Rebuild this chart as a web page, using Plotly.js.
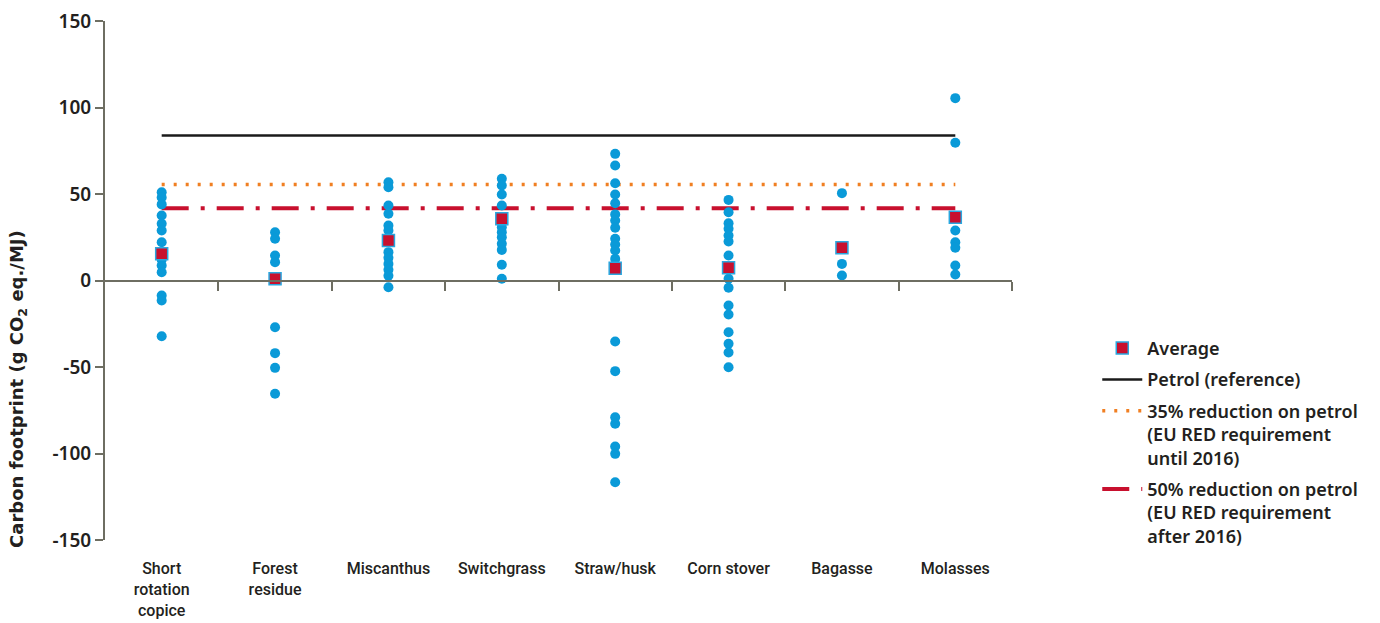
<!DOCTYPE html>
<html>
<head>
<meta charset="utf-8">
<script src="https://cdn.plot.ly/plotly-3.0.1.min.js"></script>
<style>html,body{margin:0;padding:0;background:#fff;}#chart{width:1380px;height:623px;}</style>
</head>
<body>
<div id="chart"></div>
<script>
// Categories (tick labels)
const categories = ["Short<br>rotation<br>copice", "Forest<br>residue", "Miscanthus", "Switchgrass", "Straw/husk", "Corn stover", "Bagasse", "Molasses"];

// Y tick labels
const yTickValues = [-150, -100, -50, 0, 50, 100, 150];
const yTickLabels = ["-150", "-100", "-50", "0", "50", "100", "150"];

// Individual study values per category (g CO2 eq./MJ)
const shortRotationCopice = [51, 48, 44, 37.6, 32.8, 28.9, 22.1, 12, 8.7, 4.8, -8.7, -11.6, -32.2];
const forestResidue = [27.9, 24.1, 14.5, 10.6, -27, -42, -50.5, -65.5];
const miscanthus = [56.8, 53.9, 43.4, 38.6, 31.8, 28.9, 16.4, 13.1, 9.6, 6.2, 2.7, -3.9];
const switchgrass = [58.8, 54.9, 49.7, 43.4, 30.8, 27.9, 25, 21.2, 17.7, 9.1, 1.0];
const strawHusk = [73.2, 66.5, 56.2, 49.7, 44.7, 38.2, 34.7, 30.5, 24.1, 20.8, 17.3, 12.5, -35.3, -52.4, -79, -82.8, -96, -100.2, -116.6];
const cornStover = [46.6, 39.5, 33.1, 29.9, 26, 22.5, 14.5, 1.0, -4.2, -14.5, -19.7, -29.9, -36.6, -41.6, -50.1];
const bagasse = [50.5, 9.6, 2.9];
const molasses = [105.4, 79.6, 28.9, 22.1, 18.9, 8.7, 3.5];

const seriesByCategory = [shortRotationCopice, forestResidue, miscanthus, switchgrass, strawHusk, cornStover, bagasse, molasses];

// Averages per category
const averages = [15.4, 1.0, 23.1, 35.7, 7.1, 7.3, 18.9, 36.6];

// Reference lines
const petrolReference = 83.8;
const reduction35 = 55.5;
const reduction50 = 41.8;

const dotX = [], dotY = [];
seriesByCategory.forEach((vals, i) => vals.forEach(v => { dotX.push(categories[i]); dotY.push(v); }));

const lineX = [categories[0], categories[categories.length - 1]];

const fontMain = "'Noto Sans', 'DejaVu Sans', sans-serif";

const traces = [
  {
    x: lineX, y: [petrolReference, petrolReference], type: 'scatter', mode: 'lines',
    name: 'Petrol (reference)', line: {color: '#1a1a1a', width: 2.5}, legendrank: 2, legendgroup: 'g2', hoverinfo: 'skip'
  },
  {
    x: lineX, y: [reduction35, reduction35], type: 'scatter', mode: 'lines',
    name: '35% reduction on petrol<br>(EU RED requirement<br>until 2016)',
    line: {color: '#f07f22', width: 3.5, dash: '3px,9px'}, legendrank: 3, legendgroup: 'g3', hoverinfo: 'skip'
  },
  {
    x: lineX, y: [reduction50, reduction50], type: 'scatter', mode: 'lines',
    name: '50% reduction on petrol<br>(EU RED requirement<br>after 2016)',
    line: {color: '#c8102e', width: 4, dash: '27px,12px,4px,12px'}, legendrank: 4, legendgroup: 'g4', hoverinfo: 'skip'
  },
  {
    x: dotX, y: dotY, type: 'scatter', mode: 'markers', showlegend: false,
    marker: {color: '#0a9ad8', size: 10, line: {width: 0}}
  },
  {
    x: categories, y: averages, type: 'scatter', mode: 'markers', name: 'Average', legendrank: 1, legendgroup: 'g1',
    marker: {symbol: 'square', color: '#c8102e', size: 12, line: {color: '#2aa7df', width: 1.5}}
  },
  {
    // helper so the zero-line axis with boundary ticks is drawn
    x: categories.map((c, i) => i), y: categories.map(() => null), xaxis: 'x2', type: 'scatter',
    mode: 'markers', showlegend: false, hoverinfo: 'skip'
  }
];

const boundaries = categories.map((c, i) => i + 0.5);

const layout = {
  width: 1380, height: 623,
  margin: {l: 105, r: 368, t: 21, b: 83},
  paper_bgcolor: '#ffffff', plot_bgcolor: '#ffffff',
  showlegend: true,
  font: {family: fontMain, color: '#231f20'},
  xaxis: {
    type: 'category', categoryorder: 'array', categoryarray: categories,
    range: [-0.5, 7.5], showgrid: false, zeroline: false, showline: false,
    ticks: 'outside', ticklen: 14, tickcolor: 'rgba(0,0,0,0)',
    tickfont: {family: "'Liberation Sans Narrow', Roboto, sans-serif", size: 16, color: '#231f20', weight: 500}
  },
  xaxis2: {
    overlaying: 'x', anchor: 'free', position: 0.5, range: [-0.5, 7.5],
    showgrid: false, zeroline: false, showline: true, linecolor: '#6e6e62', linewidth: 2,
    tickmode: 'array', tickvals: boundaries, ticks: 'outside', ticklen: 9, tickwidth: 2, tickcolor: '#6e6e62',
    showticklabels: false
  },
  yaxis: {
    range: [-150, 150], tickmode: 'array', tickvals: yTickValues, ticktext: yTickLabels,
    showgrid: false, zeroline: false, showline: true, linecolor: '#6e6e62', linewidth: 2,
    ticks: 'outside', ticklen: 8, tickwidth: 2, tickcolor: '#6e6e62',
    tickfont: {family: fontMain, size: 19, color: '#231f20', weight: 600}
  },
  legend: {
    x: 1.094, xanchor: 'left', y: 0.405, yanchor: 'top', valign: 'top',
    font: {family: fontMain, size: 18, color: '#231f20', weight: 600},
    itemwidth: 40, tracegroupgap: 5, bgcolor: 'rgba(0,0,0,0)'
  },
  annotations: [
    {
      text: 'Carbon footprint (g CO<sub>2</sub> eq./MJ)', textangle: -90,
      xref: 'paper', yref: 'paper', x: -0.096, y: 0.291, xanchor: 'center', yanchor: 'middle',
      showarrow: false, font: {family: "'DejaVu Sans', sans-serif", size: 18, color: '#231f20', weight: 700}
    }
  ]
};

Plotly.newPlot('chart', traces, layout, {displayModeBar: false, staticPlot: true});
</script>
</body>
</html>
